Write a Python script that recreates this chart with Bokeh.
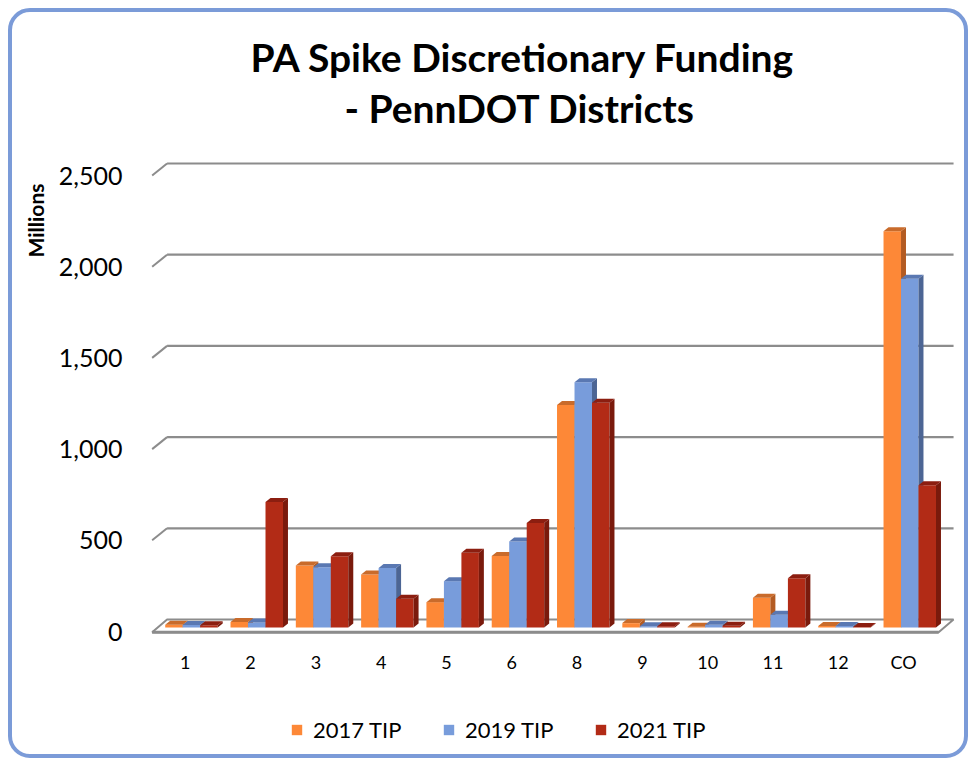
from bokeh.plotting import figure
from bokeh.models import (Range1d, FixedTicker, NumeralTickFormatter, Legend, LegendItem,
                          Title, ColumnDataSource)
from bokeh.embed import file_html
from bokeh.resources import INLINE

# ---------------- data ----------------
categories = ["1", "2", "3", "4", "5", "6", "8", "9", "10", "11", "12", "CO"]
series_names = ["2017 TIP", "2019 TIP", "2021 TIP"]
tip2017 = [15, 30, 340, 291, 139, 392, 1220, 24, 4, 163, 8, 2172]
tip2019 = [14, 28, 331, 326, 254, 472, 1345, 7, 15, 70, 8, 1912]
tip2021 = [12, 688, 390, 158, 410, 573, 1232, 7, 10, 270, 3, 780]
y_ticks = [0, 500, 1000, 1500, 2000, 2500]

# ---------------- styling / geometry ----------------
front_colors = ["#FD8837", "#789CDB", "#B22B16"]
side_colors = ["#B35B22", "#4C6594", "#7A1A0C"]
top_colors = ["#C96B2B", "#5A78B2", "#8C1E10"]
grid_color = "#8C8C8C"
FONT = "Lato"

PX_U = 65.7     # pixels per category
PX_V = 0.1824   # pixels per million


def ux(px):
    return px / PX_U


def vy(px):
    return px / PX_V


BAR_W = ux(17.6)
GROUP_SHIFT = 0.095
BAR_DX, BAR_DY = ux(5), vy(4)
BAR_BASE = vy(4)
WALL_DX, WALL_DY = ux(15), vy(12)
X_LEFT = ux(146.7 - 180)
X_RIGHT_FRONT = ux(938 - 180)
X_RIGHT_BACK = X_RIGHT_FRONT + WALL_DX

FRAME_TOP = 132
FRAME_BOTTOM = 758
p = figure(width=960, height=750, output_backend="svg", toolbar_location=None,
           x_range=Range1d(ux(140 - 180), ux(962 - 180)),
           y_range=Range1d(vy(631 - FRAME_BOTTOM), vy(631 - FRAME_TOP)),
           min_border_left=128, min_border_right=10, min_border_top=FRAME_TOP - 12,
           min_border_bottom=4)
p.styles = {"margin": "8px", "border": "4px solid #7B9BD8", "border-radius": "22px"}
p.border_fill_alpha = 0
p.background_fill_alpha = 0
p.outline_line_color = None
p.xgrid.visible = False
p.ygrid.visible = False

# ---------- back wall gridlines ----------
gv = y_ticks[1:]
gsrc = ColumnDataSource(dict(
    x0=[X_LEFT] * len(gv), y0=gv,
    x1=[X_LEFT + WALL_DX] * len(gv), y1=[v + WALL_DY for v in gv],
    x2=[X_RIGHT_BACK] * len(gv)))
p.segment(x0="x0", y0="y0", x1="x1", y1="y1", source=gsrc, line_color=grid_color, line_width=2)
p.segment(x0="x1", y0="y1", x1="x2", y1="y1", source=gsrc, line_color=grid_color, line_width=2.2)

# ---------- floor ----------
p.patch([X_LEFT, X_RIGHT_FRONT, X_RIGHT_BACK, X_LEFT + WALL_DX],
        [vy(-0.7), vy(-0.7), WALL_DY, WALL_DY],
        fill_color="white", line_color=grid_color, line_width=2)
p.line([X_LEFT, X_RIGHT_FRONT], [vy(-0.7), vy(-0.7)], line_color=grid_color, line_width=3)

# ---------- 3D bars ----------
series = [tip2017, tip2019, tip2021]
front_renderers = []
for k, vals in enumerate(series):
    xc = [i + GROUP_SHIFT + (k - 1) * BAR_W for i in range(len(categories))]
    xl = [x - BAR_W / 2 for x in xc]
    xr = [x + BAR_W / 2 for x in xc]
    tops = [v + BAR_BASE for v in vals]
    src = ColumnDataSource(dict(x=xc, top=tops, bottom=[BAR_BASE] * len(vals), cat=categories, value=vals))
    r = p.vbar(x="x", top="top", bottom="bottom", width=BAR_W, source=src,
               fill_color=front_colors[k], line_color=None)
    front_renderers.append(r)
    side_xs = [[a, a + BAR_DX, a + BAR_DX, a] for a in xr]
    side_ys = [[BAR_BASE, BAR_BASE + BAR_DY, t + BAR_DY, t] for t in tops]
    p.patches(side_xs, side_ys, fill_color=side_colors[k], line_color=None)
    top_xs = [[a, b, b + BAR_DX, a + BAR_DX] for a, b in zip(xl, xr)]
    top_ys = [[t, t, t + BAR_DY, t + BAR_DY] for t in tops]
    p.patches(top_xs, top_ys, fill_color=top_colors[k], line_color=None)

# ---------- axes ----------
p.yaxis.ticker = FixedTicker(ticks=y_ticks)
p.yaxis.formatter = NumeralTickFormatter(format="0,0")
p.yaxis.axis_line_color = None
p.yaxis.major_tick_line_color = None
p.yaxis.minor_tick_line_color = None
p.yaxis.major_tick_out = 0
p.yaxis.major_tick_in = 0
p.yaxis.major_label_standoff = 23
p.yaxis.major_label_text_font = FONT
p.yaxis.major_label_text_font_size = "25px"
p.yaxis.major_label_text_color = "black"

p.xaxis.ticker = FixedTicker(ticks=list(range(len(categories))))
p.xaxis.major_label_overrides = {i: c for i, c in enumerate(categories)}
p.xaxis.fixed_location = vy(631 - 645)
p.xaxis.axis_line_color = None
p.xaxis.major_tick_line_color = None
p.xaxis.minor_tick_line_color = None
p.xaxis.major_tick_out = 0
p.xaxis.major_tick_in = 0
p.xaxis.major_label_standoff = 5
p.xaxis.major_label_text_font = FONT
p.xaxis.major_label_text_font_size = "18px"
p.xaxis.major_label_text_color = "black"

# ---------- titles ----------
p.title.text = "PA Spike Discretionary Funding"
p.title.align = "left"
p.title.offset = 105
p.title.standoff = 3
p.title.text_font = FONT
p.title.text_font_size = "39px"
p.title.text_font_style = "bold"
p.title.text_color = "black"
t2 = Title(text="- PennDOT Districts", align="left", offset=199, standoff=3,
           text_font=FONT, text_font_size="39px", text_font_style="bold", text_color="black")
p.add_layout(t2, "above")

ylab = Title(text="Millions", align="right", offset=183 - FRAME_TOP, standoff=16,
             text_font=FONT, text_font_size="21px", text_font_style="bold", text_color="black")
p.add_layout(ylab, "left")

# ---------- legend ----------
legend = Legend(items=[LegendItem(label=n, renderers=[r]) for n, r in zip(series_names, front_renderers)],
                orientation="horizontal", location=(145, 15),
                glyph_width=13, glyph_height=13, label_standoff=10, label_width=129, spacing=0,
                label_text_font=FONT, label_text_font_size="22px", label_text_color="black",
                border_line_color=None, background_fill_alpha=0)
p.add_layout(legend)

open("out.html", "w").write(file_html(p, INLINE))
